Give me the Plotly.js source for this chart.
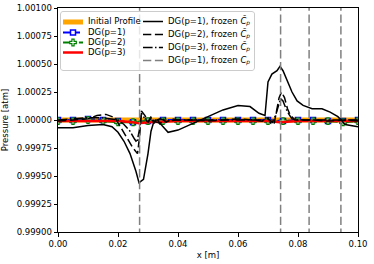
<!DOCTYPE html>
<html>
<head>
<meta charset="utf-8">
<script src="https://cdn.plot.ly/plotly-3.0.1.min.js"></script>
<style>html,body{margin:0;padding:0;background:#fff;}#chart{width:374px;height:264px;}</style>
</head>
<body>
<div id="chart"></div>
<script>
// ---------------- data ----------------
const initX = [0, 0.1];
const initY = [1.0, 1.0];

const markX = [0, 0.005, 0.01, 0.015, 0.02, 0.025, 0.03, 0.035, 0.04, 0.045, 0.05,
               0.055, 0.06, 0.065, 0.07, 0.075, 0.08, 0.085, 0.09, 0.095, 0.1];
const p1Y = [1.00000, 1.00000, 1.00001, 1.00000, 0.99999, 0.99998, 0.99999, 1.00000, 1.00000, 1.00000, 1.00000,
             1.00000, 1.00000, 1.00000, 1.00000, 0.99999, 1.00000, 1.00000, 0.99999, 0.99999, 1.00000];
const p2Y = [0.99999, 0.99999, 1.00000, 0.99999, 0.99998, 0.99998, 0.99999, 0.99999, 0.99999, 0.99999, 0.99999,
             0.99999, 0.99999, 0.99999, 0.99999, 0.99999, 0.99999, 0.99999, 0.99999, 0.99998, 0.99999];
const p3X = [0, 0.01, 0.02, 0.025, 0.027, 0.03, 0.04, 0.05, 0.06, 0.07, 0.074, 0.08, 0.09, 0.1];
const p3Y = [0.99999, 0.99999, 0.99999, 0.99998, 0.99997, 0.99998, 0.99999, 0.99999, 0.99999, 0.99999, 0.99998, 0.99999, 0.99999, 0.99999];

const fz1X = [0, 0.005, 0.01, 0.015, 0.018, 0.02, 0.022, 0.024, 0.026, 0.027, 0.0285, 0.03, 0.031, 0.032,
              0.034, 0.0367, 0.04, 0.045, 0.05, 0.055, 0.06, 0.064, 0.067, 0.069, 0.070, 0.0713, 0.073,
              0.074, 0.075, 0.0763, 0.078, 0.0797, 0.0817, 0.0847, 0.088, 0.0907, 0.0933, 0.0957, 0.1];
const fz1Y = [0.99993, 0.99993, 0.99995, 0.99996, 0.99994, 0.99989, 0.99981, 0.99970, 0.99954, 0.99944,
              0.99947, 0.99970, 0.99990, 0.99999, 0.99997, 0.99989, 0.99991, 0.99997, 1.00003, 1.00009,
              1.00013, 1.00012, 1.00006, 1.00004, 1.00034, 1.00041, 1.00044, 1.00048, 1.00044, 1.00035,
              1.00025, 1.00017, 1.00013, 1.00010, 1.00010, 1.00007, 1.00003, 0.99996, 0.99994];

const fz2X = [0, 0.005, 0.01, 0.013, 0.016, 0.019, 0.021, 0.023, 0.025, 0.0265, 0.0272, 0.0278, 0.029,
              0.030, 0.031, 0.032, 0.033, 0.034, 0.035, 0.036, 0.038, 0.040, 0.045, 0.05, 0.055, 0.06,
              0.065, 0.068, 0.070, 0.071, 0.072, 0.0728, 0.0737, 0.0745, 0.0755, 0.0765, 0.0775, 0.079,
              0.085, 0.09, 0.095, 0.1];
const fz2Y = [0.99999, 1.00000, 1.00001, 1.00004, 1.00005, 1.00002, 0.99993, 0.99985, 0.99975, 0.99970,
              0.99985, 1.00008, 1.00004, 0.99998, 1.00003, 0.99997, 1.00002, 0.99996, 1.00001, 0.99998,
              1.00001, 1.00000, 1.00000, 0.99999, 1.00000, 1.00001, 1.00000, 0.99999, 1.00002, 0.99997,
              0.99996, 1.00008, 1.00020, 1.00025, 1.00020, 1.00010, 1.00004, 1.00000, 1.00000, 0.99999,
              1.00000, 0.99999];

const fz3X = [0, 0.005, 0.01, 0.015, 0.02, 0.022, 0.024, 0.0255, 0.0263, 0.0272, 0.0278, 0.029, 0.030,
              0.031, 0.032, 0.034, 0.036, 0.04, 0.05, 0.06, 0.068, 0.070, 0.0715, 0.0725, 0.0735, 0.0742,
              0.075, 0.076, 0.077, 0.078, 0.08, 0.09, 0.1];
const fz3Y = [1.00000, 1.00001, 1.00002, 1.00002, 1.00000, 0.99996, 0.99990, 0.99983, 0.99980, 0.99992,
              1.00006, 1.00001, 0.99998, 1.00002, 0.99999, 1.00001, 0.99999, 1.00000, 1.00000, 1.00000,
              1.00000, 1.00001, 0.99998, 1.00004, 1.00014, 1.00019, 1.00017, 1.00010, 1.00005, 1.00001,
              1.00000, 1.00000, 1.00000];

// frozen C_p solution leaves the plotted range at these positions (vertical excursions)
const cpX = [0.0272, 0.0272, null, 0.0742, 0.0742, null, 0.0837, 0.0837, null, 0.0943, 0.0943];
const cpY = [0.998, 1.002, null, 0.998, 1.002, null, 0.998, 1.002, null, 0.998, 1.002];

const xTicks = [0, 0.02, 0.04, 0.06, 0.08, 0.10];
const yTicks = [0.999, 0.99925, 0.9995, 0.99975, 1.0, 1.00025, 1.0005, 1.00075, 1.001];

const legendLabels = ['Initial Profile', 'DG(p=1)', 'DG(p=2)', 'DG(p=3)',
  'DG(p=1), frozen <i>C̃</i><sub><i>p</i></sub>',
  'DG(p=2), frozen <i>C̃</i><sub><i>p</i></sub>',
  'DG(p=3), frozen <i>C̃</i><sub><i>p</i></sub>',
  'DG(p=1), frozen <i>C</i><sub><i>p</i></sub>'];

// ---------------- styles ----------------
const FONT = 'DejaVu Sans, sans-serif';
const FS = 8.5;
const ORANGE = '#FFA500', BLUE = '#0000FF', GREEN = '#008000', RED = '#FF0000', GREY = '#808080';
const DASH15 = '8.3px,3.6px', DASHDOT15 = '9.6px,2.4px,1.5px,2.4px', BLUEDASH = '7px,3px';

const styles = [
  {line: {color: ORANGE, width: 5}},
  {line: {color: BLUE, width: 2, dash: BLUEDASH}, marker: {symbol: 'square', size: 5, color: '#fff', line: {color: BLUE, width: 1.5}}},
  {line: {color: GREEN, width: 2, dash: DASHDOT15}, marker: {symbol: 'cross', size: 5.5, color: '#fff', line: {color: GREEN, width: 1.2}}},
  {line: {color: RED, width: 2.5}},
  {line: {color: '#000', width: 1.5}},
  {line: {color: '#000', width: 1.5, dash: DASH15}},
  {line: {color: '#000', width: 1.5, dash: DASHDOT15}},
  {line: {color: GREY, width: 1.5, dash: DASH15}}
];
const seriesX = [initX, markX, markX, p3X, fz1X, fz2X, fz3X, cpX];
const seriesY = [initY, p1Y, p2Y, p3Y, fz1Y, fz2Y, fz3Y, cpY];

const traces = seriesX.map((xs, i) => Object.assign({
  x: xs, y: seriesY[i], name: legendLabels[i], type: 'scatter',
  mode: styles[i].marker ? 'lines+markers' : 'lines', connectgaps: false,
  showlegend: false, hoverinfo: 'skip'
}, styles[i]));

// ---------------- legend: drawn on an overlay axis in pixel units ----------------
const M = {l: 58, r: 16, t: 8, b: 32}, W = 374, H = 264;
const box = {x0: 60.5, x1: 254.5, y0: 11.5, y1: 70.5, r: 2.5};
const boxX = [], boxY = [];
[[box.x1 - box.r, box.y0 + box.r, -90], [box.x1 - box.r, box.y1 - box.r, 0],
 [box.x0 + box.r, box.y1 - box.r, 90], [box.x0 + box.r, box.y0 + box.r, 180]].forEach(([cx, cy, a0]) => {
  for (let k = 0; k <= 4; k++) {
    const a = (a0 + k * 22.5) * Math.PI / 180;
    boxX.push(cx + box.r * Math.cos(a)); boxY.push(cy + box.r * Math.sin(a));
  }
});
boxX.push(boxX[0]); boxY.push(boxY[0]);
const legTr = [{x: boxX, y: boxY, xaxis: 'x2', yaxis: 'y2', mode: 'lines', fill: 'toself',
  fillcolor: 'rgba(255,255,255,0.8)', line: {color: '#cccccc', width: 1}, showlegend: false, hoverinfo: 'skip'}];
const rowY = [22, 32.5, 42.5, 52.5, 21.5, 34.5, 47.5, 60.5];
const textX = [], textY = [];
styles.forEach((s, i) => {
  const sx0 = i < 4 ? 63 : 143, sx1 = sx0 + 20, y = rowY[i];
  legTr.push({x: [sx0, sx1], y: [y, y], xaxis: 'x2', yaxis: 'y2', mode: 'lines', line: s.line,
    showlegend: false, hoverinfo: 'skip'});
  if (s.marker) {
    legTr.push({x: [(sx0 + sx1) / 2], y: [y], xaxis: 'x2', yaxis: 'y2', mode: 'markers', marker: s.marker,
      showlegend: false, hoverinfo: 'skip'});
  }
  textX.push(sx1 + 5); textY.push(y);
});
legTr.push({x: textX, y: textY, xaxis: 'x2', yaxis: 'y2', mode: 'text', text: legendLabels,
  textposition: 'middle right', textfont: {family: FONT, size: FS, color: '#000'},
  showlegend: false, hoverinfo: 'skip', cliponaxis: false});

const layout = {
  width: W, height: H,
  margin: M,
  paper_bgcolor: '#fff', plot_bgcolor: '#fff',
  font: {family: FONT, size: FS, color: '#000'},
  showlegend: false,
  xaxis: {range: [0, 0.1], tickvals: xTicks, tickformat: '.2f', ticks: 'outside', ticklen: 3.5, tickwidth: 0.8,
    tickcolor: '#000', showline: true, mirror: true, linecolor: '#000', linewidth: 1, showgrid: false, zeroline: false,
    title: {text: 'x [m]', font: {family: FONT, size: FS}, standoff: 4}, tickfont: {family: FONT, size: FS}},
  yaxis: {range: [0.999, 1.001], tickvals: yTicks, tickformat: '.5f', ticks: 'outside', ticklen: 3.5, tickwidth: 0.8,
    tickcolor: '#000', showline: true, mirror: true, linecolor: '#000', linewidth: 1, showgrid: false, zeroline: false,
    title: {text: 'Pressure [atm]', font: {family: FONT, size: FS}, standoff: 6}, tickfont: {family: FONT, size: FS}},
  xaxis2: {overlaying: 'x', anchor: 'y2', range: [M.l, W - M.r], visible: false, fixedrange: true},
  yaxis2: {overlaying: 'y', anchor: 'x2', range: [H - M.b, M.t], visible: false, fixedrange: true}
};

Plotly.newPlot('chart', traces.concat(legTr), layout, {displayModeBar: false});
</script>
</body>
</html>
